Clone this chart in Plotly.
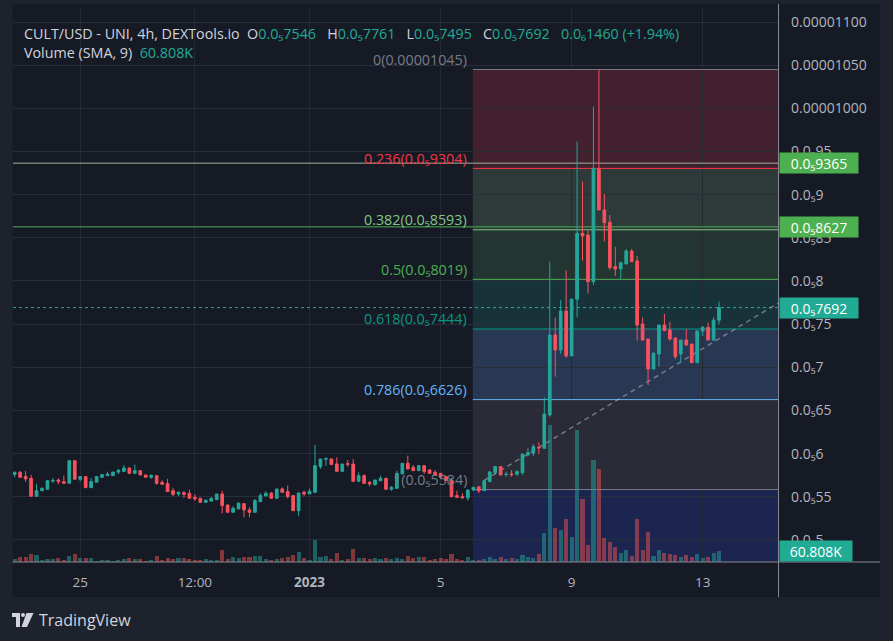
import plotly.graph_objects as go

# ---------------- data (prices in units of 1e-6 USD, volume in thousands) ----------------
N_CANDLES = 130  # 4h candles, 23 Dec 2022 00:00 .. 13 Jan 2023 12:00
TIME_TICK_POS = [12, 33, 54, 78, 102, 126]
TIME_TICK_TEXT = ["25", "12:00", "<b>2023</b>", "5", "9", "13"]

OPEN = [5.760, 5.784, 5.737, 5.714, 5.506, 5.571, 5.587, 5.683, 5.695, 5.676,
        5.657, 5.919, 5.703, 5.734, 5.606, 5.668, 5.726, 5.745, 5.745, 5.787,
        5.795, 5.834, 5.772, 5.803, 5.753, 5.726, 5.745, 5.668, 5.653, 5.571,
        5.533, 5.548, 5.540, 5.494, 5.483, 5.436, 5.450, 5.467, 5.533, 5.406,
        5.321, 5.360, 5.421, 5.348, 5.321, 5.444, 5.510, 5.541, 5.483, 5.591,
        5.560, 5.514, 5.340, 5.552, 5.533, 5.552, 5.851, 5.935, 5.938, 5.880,
        5.795, 5.884, 5.880, 5.680, 5.745, 5.668, 5.641, 5.687, 5.714, 5.587,
        5.598, 5.765, 5.888, 5.842, 5.803, 5.861, 5.811, 5.784, 5.772, 5.734,
        5.687, 5.514, 5.502, 5.487, 5.579, 5.615, 5.572, 5.676, 5.780, 5.850,
        5.757, 5.764, 5.761, 5.780, 5.985, 6.004, 6.074, 6.062, 6.448, 7.375,
        7.201, 7.653, 7.132, 7.788, 8.552, 8.533, 7.992, 9.305, 8.823, 8.680,
        8.166, 8.139, 8.197, 8.347, 8.232, 7.502, 7.328, 6.980, 7.154, 7.490,
        7.432, 7.340, 7.154, 7.316, 7.270, 7.054, 7.420, 7.463, 7.316, 7.546]
HIGH = [5.792, 5.799, 5.799, 5.753, 5.652, 5.610, 5.687, 5.718, 5.714, 5.745,
        5.919, 5.919, 5.734, 5.734, 5.718, 5.734, 5.757, 5.790, 5.787, 5.823,
        5.869, 5.834, 5.873, 5.803, 5.753, 5.760, 5.745, 5.691, 5.707, 5.606,
        5.560, 5.567, 5.583, 5.530, 5.483, 5.468, 5.494, 5.533, 5.572, 5.406,
        5.390, 5.437, 5.421, 5.378, 5.475, 5.541, 5.564, 5.556, 5.591, 5.610,
        5.630, 5.514, 5.545, 5.572, 5.595, 6.104, 5.938, 5.958, 5.942, 5.958,
        5.880, 5.927, 5.938, 5.784, 5.764, 5.680, 5.695, 5.745, 5.714, 5.625,
        5.800, 5.888, 5.977, 5.870, 5.861, 5.861, 5.819, 5.811, 5.772, 5.734,
        5.720, 5.572, 5.541, 5.579, 5.615, 5.625, 5.687, 5.800, 5.850, 5.850,
        5.792, 5.810, 5.810, 5.996, 6.062, 6.112, 6.131, 6.653, 8.224, 7.576,
        7.780, 8.120, 7.800, 9.614, 9.151, 8.583, 10.020, 10.450, 9.008, 8.765,
        8.397, 8.224, 8.371, 8.371, 8.290, 7.579, 7.328, 7.181, 7.490, 7.618,
        7.525, 7.340, 7.316, 7.440, 7.270, 7.421, 7.479, 7.517, 7.579, 7.761]
LOW = [5.726, 5.718, 5.676, 5.506, 5.506, 5.565, 5.587, 5.660, 5.645, 5.657,
       5.657, 5.703, 5.680, 5.606, 5.606, 5.668, 5.726, 5.745, 5.745, 5.764,
       5.795, 5.772, 5.764, 5.753, 5.726, 5.707, 5.640, 5.645, 5.560, 5.506,
       5.506, 5.487, 5.483, 5.456, 5.436, 5.429, 5.450, 5.467, 5.309, 5.321,
       5.321, 5.360, 5.263, 5.263, 5.321, 5.444, 5.510, 5.483, 5.483, 5.552,
       5.483, 5.340, 5.274, 5.506, 5.533, 5.552, 5.822, 5.861, 5.873, 5.795,
       5.795, 5.849, 5.680, 5.680, 5.656, 5.622, 5.630, 5.680, 5.587, 5.570,
       5.598, 5.765, 5.822, 5.803, 5.803, 5.765, 5.772, 5.757, 5.726, 5.687,
       5.502, 5.487, 5.487, 5.456, 5.570, 5.541, 5.565, 5.676, 5.753, 5.753,
       5.734, 5.734, 5.745, 5.753, 5.966, 5.973, 5.996, 6.062, 6.429, 6.892,
       7.155, 7.112, 7.132, 7.579, 8.236, 7.857, 7.954, 8.823, 8.456, 8.128,
       8.058, 8.019, 8.197, 8.224, 7.309, 7.309, 6.795, 6.980, 7.008, 7.425,
       7.309, 7.096, 7.054, 7.258, 7.054, 7.054, 7.363, 7.316, 7.316, 7.495]
CLOSE = [5.784, 5.726, 5.707, 5.506, 5.571, 5.598, 5.687, 5.690, 5.676, 5.657,
         5.919, 5.703, 5.734, 5.606, 5.676, 5.734, 5.757, 5.764, 5.787, 5.807,
         5.834, 5.772, 5.803, 5.753, 5.726, 5.749, 5.657, 5.645, 5.560, 5.529,
         5.552, 5.529, 5.483, 5.475, 5.436, 5.460, 5.483, 5.533, 5.398, 5.321,
         5.367, 5.425, 5.348, 5.321, 5.456, 5.514, 5.541, 5.483, 5.591, 5.552,
         5.502, 5.340, 5.545, 5.533, 5.564, 5.861, 5.938, 5.942, 5.873, 5.795,
         5.880, 5.876, 5.680, 5.745, 5.656, 5.649, 5.695, 5.714, 5.587, 5.610,
         5.772, 5.888, 5.822, 5.803, 5.861, 5.792, 5.772, 5.757, 5.726, 5.687,
         5.502, 5.494, 5.487, 5.579, 5.610, 5.568, 5.687, 5.788, 5.850, 5.753,
         5.761, 5.757, 5.792, 5.996, 6.012, 6.081, 6.066, 6.460, 7.375, 7.201,
         7.653, 7.132, 7.788, 8.552, 8.521, 7.992, 9.305, 8.823, 8.676, 8.155,
         8.139, 8.212, 8.347, 8.224, 7.490, 7.316, 6.980, 7.162, 7.490, 7.425,
         7.328, 7.123, 7.316, 7.258, 7.054, 7.421, 7.463, 7.316, 7.546, 7.692]
VOLUME_K = [16.6, 27.7, 27.4, 44.2, 38.7, 11.1, 16.4, 16.8, 22.1, 11.3,
            33.2, 44.5, 22.0, 22.4, 21.9, 5.6, 11.0, 11.4, 5.8, 11.2,
            16.5, 22.3, 16.7, 16.4, 5.5, 11.1, 33.0, 11.2, 22.0, 16.6,
            22.2, 22.1, 16.5, 11.0, 11.3, 16.6, 11.1, 11.0, 66.4, 16.5,
            27.6, 22.1, 27.7, 27.5, 33.1, 33.4, 16.6, 11.1, 16.7, 22.0,
            27.6, 38.8, 55.3, 22.1, 11.0, 121.7, 27.6, 33.2, 16.6, 49.8,
            11.1, 16.6, 71.9, 22.1, 22.2, 16.6, 22.1, 16.5, 22.2, 16.6,
            22.1, 16.6, 33.2, 22.1, 27.7, 27.6, 11.1, 16.6, 22.1, 16.6,
            44.2, 16.6, 11.1, 27.7, 11.1, 11.0, 16.6, 27.7, 16.6, 27.6,
            16.6, 22.1, 16.6, 38.7, 27.6, 22.1, 44.2, 160.4, 757.6, 188.0,
            177.0, 237.8, 138.3, 730.0, 348.4, 94.0, 564.1, 514.3, 132.7, 110.6,
            83.0, 49.8, 66.4, 33.2, 237.8, 66.4, 165.9, 33.2, 66.4, 49.8,
            44.2, 38.7, 27.7, 38.7, 27.6, 44.2, 22.1, 27.7, 49.8, 60.808]
CHANGE = 0.1460        # last-bar change, 1e-6 units
CHANGE_PCT = 1.94

PRICE_TICKS = [5.0, 5.5, 6.0, 6.5, 7.0, 7.5, 8.0, 8.5, 9.0, 9.5, 10.0, 10.5, 11.0]
PRICE_TICK_TEXT = ["0.0₅5", "0.0₅55", "0.0₅6", "0.0₅65", "0.0₅7", "0.0₅75", "0.0₅8",
                   "0.0₅85", "0.0₅9", "0.0₅95", "0.00001000", "0.00001050", "0.00001100"]

FIB_RATIOS = ["0", "0.236", "0.382", "0.5", "0.618", "0.786", "1"]
FIB_PRICES = [10.45, 9.304, 8.593, 8.019, 7.444, 6.626, 5.584]
FIB_START = 83.9            # candle index where the retracement drawing begins
ALERT_LINES = [9.365, 8.627]
TREND_A = (86.0, 5.691)
TREND_B = (139.8, 7.743)

# ---------------- style ----------------
UP = "#26a69a"
DOWN = "#f7525f"
TXT = "#b2b5be"
FONT = "Open Sans, Noto Sans, sans-serif"
W, H = 893, 641
ML, MR, MT, MB = 13, 115, 9, 79
PW, PH = W - ML - MR, H - MT - MB
X_RANGE = [-0.31, 139.8]
Y_RANGE = [4.7449, 11.0 + (22 - MT) / 86.33]
VOL_PER_PX = 5.53
VOL_RANGE = [0, PH * VOL_PER_PX]

FIB_LINE_COLORS = ["#787b86", "#f23645", "#81c784", "#4caf50", "#089981", "#64b5f6", "#787b86"]
FIB_ZONE_COLORS = ["#42202e", "#2e3a3a", "#233530", "#18323a", "#283752", "#2a2b36", "#1c2550"]


def PX(x):
    return (x - ML) / PW


def PY(y):
    return (H - MB - y) / PH


def sub5(p):
    return "0.0₅" + str(int(round(p * 1000)))


X = list(range(N_CANDLES))
fig = go.Figure()

vol_colors = ["rgba(38,166,154,0.5)" if c >= o else "rgba(239,83,80,0.5)" for o, c in zip(OPEN, CLOSE)]
fig.add_trace(go.Candlestick(
    x=X, open=OPEN, high=HIGH, low=LOW, close=CLOSE,
    increasing=dict(line=dict(color=UP, width=1), fillcolor=UP),
    decreasing=dict(line=dict(color=DOWN, width=1), fillcolor=DOWN),
    whiskerwidth=0, hoverinfo="skip", showlegend=False))
fig.add_trace(go.Bar(x=X, y=VOLUME_K, yaxis="y2", marker=dict(color=vol_colors, line=dict(width=0)),
                     width=0.75, hoverinfo="skip", showlegend=False))

shapes = []
shapes.append(dict(type="rect", xref="paper", yref="paper", x0=PX(12.5), x1=PX(880), y0=PY(597), y1=PY(4),
                   fillcolor="#161a25", line=dict(width=0), layer="below"))
zone_bounds = FIB_PRICES + [Y_RANGE[0]]
for i in range(len(FIB_PRICES)):
    shapes.append(dict(type="rect", xref="x", yref="y", x0=FIB_START, x1=X_RANGE[1],
                       y0=zone_bounds[i + 1], y1=zone_bounds[i], fillcolor=FIB_ZONE_COLORS[i],
                       line=dict(width=0), layer="below"))
for p, c in zip(FIB_PRICES, FIB_LINE_COLORS):
    shapes.append(dict(type="line", xref="x", yref="y", x0=FIB_START, x1=X_RANGE[1], y0=p, y1=p,
                       line=dict(color=c, width=1), layer="between"))
shapes.append(dict(type="line", xref="x", yref="y", x0=X_RANGE[0], x1=X_RANGE[1], y0=ALERT_LINES[0],
                   y1=ALERT_LINES[0], line=dict(color="#9fb3a0", width=1), layer="between"))
shapes.append(dict(type="line", xref="x", yref="y", x0=X_RANGE[0], x1=X_RANGE[1], y0=ALERT_LINES[1],
                   y1=ALERT_LINES[1], line=dict(color="#4caf50", width=1), layer="between"))
shapes.append(dict(type="line", xref="x", yref="y", x0=X_RANGE[0], x1=X_RANGE[1], y0=CLOSE[-1], y1=CLOSE[-1],
                   line=dict(color="#22ab94", width=1, dash="dot"), layer="between"))
shapes.append(dict(type="line", xref="x", yref="y", x0=TREND_A[0], y0=TREND_A[1], x1=TREND_B[0], y1=TREND_B[1],
                   line=dict(color="rgba(178,181,190,0.55)", width=1.5, dash="5px,4px"), layer="between"))
shapes.append(dict(type="line", xref="paper", yref="paper", x0=PX(778.5), x1=PX(778.5), y0=PY(597), y1=PY(4),
                   line=dict(color="#868993", width=1), layer="above"))
shapes.append(dict(type="line", xref="paper", yref="paper", x0=PX(12.5), x1=PX(880), y0=PY(562), y1=PY(562),
                   line=dict(color="#868993", width=1), layer="above"))
# TradingView logo
shapes.append(dict(type="rect", xref="paper", yref="paper", x0=PX(12), x1=PX(20), y0=PY(617), y1=PY(613),
                   fillcolor="#d1d4dc", line=dict(width=0), layer="above"))
shapes.append(dict(type="rect", xref="paper", yref="paper", x0=PX(16), x1=PX(20), y0=PY(627), y1=PY(613),
                   fillcolor="#d1d4dc", line=dict(width=0), layer="above"))
shapes.append(dict(type="circle", xref="paper", yref="paper", x0=PX(21), x1=PX(25), y0=PY(617), y1=PY(613),
                   fillcolor="#d1d4dc", line=dict(width=0), layer="above"))
shapes.append(dict(type="path", xref="paper", yref="paper",
                   path=f"M {PX(26.5)} {PY(613)} L {PX(33.5)} {PY(613)} L {PX(27)} {PY(627)} L {PX(21.5)} {PY(627)} Z",
                   fillcolor="#d1d4dc", line=dict(width=0), layer="above"))

annotations = []
TEAL = "#22ab94"


def val(s):
    return f'<span style="color:{TEAL}">{s}</span>'


sp = "\u00a0\u00a0"
sp3 = "\u00a0\u00a0\u00a0"
line1 = ("CULT/USD - UNI, 4h, DEXTools.io" + sp + "O" + val(sub5(OPEN[-1])) + sp3 + "H" + val(sub5(HIGH[-1]))
         + sp3 + "L" + val(sub5(LOW[-1])) + sp3 + "C" + val(sub5(CLOSE[-1])) + sp3
         + val(f"0.0₆{int(round(CHANGE * 10000))} (+{CHANGE_PCT:.2f}%)"))
line2 = "Volume (SMA, 9)" + sp + val(f"{VOLUME_K[-1]:.3f}K")
annotations.append(dict(xref="paper", yref="paper", x=PX(22), y=PY(33), xanchor="left", yanchor="middle",
                        text=line1, showarrow=False, font=dict(size=14.3, color="#d1d4dc", family=FONT)))
annotations.append(dict(xref="paper", yref="paper", x=PX(22), y=PY(52), xanchor="left", yanchor="middle",
                        text=line2, showarrow=False, font=dict(size=14.3, color="#d1d4dc", family=FONT)))

for r, p, c in zip(FIB_RATIOS, FIB_PRICES, FIB_LINE_COLORS):
    ptxt = "0.00001045" if p >= 10 else sub5(p)
    annotations.append(dict(xref="x", yref="y", x=FIB_START, y=p, xanchor="right", yanchor="middle",
                            xshift=-4, yshift=10, text=f"{r}({ptxt})", showarrow=False,
                            font=dict(size=14.3, color=c, family=FONT)))

for p, bg in [(ALERT_LINES[0], "#4caf50"), (ALERT_LINES[1], "#4caf50"), (CLOSE[-1], TEAL)]:
    annotations.append(dict(xref="paper", yref="y", x=1, y=p, xanchor="left", yanchor="middle", xshift=1,
                            text=sub5(p), showarrow=False, bgcolor=bg, width=74, height=16, borderpad=2,
                            font=dict(size=14, color="#ffffff", family=FONT)))
annotations.append(dict(xref="paper", yref="y2", x=1, y=VOLUME_K[-1], xanchor="left", yanchor="middle", xshift=1,
                        text=f"{VOLUME_K[-1]:.3f}K", showarrow=False, bgcolor=TEAL, width=68, height=16,
                        borderpad=2, font=dict(size=14, color="#ffffff", family=FONT)))
annotations.append(dict(xref="paper", yref="paper", x=PX(37), y=PY(620), xanchor="left", yanchor="middle",
                        text="TradingView", showarrow=False, font=dict(size=16, color="#d1d4dc", family=FONT)))

fig.update_layout(
    width=W, height=H, margin=dict(l=ML, r=MR, t=MT, b=MB, pad=0),
    paper_bgcolor="#1e222d", plot_bgcolor="#161a25",
    font=dict(family=FONT, size=13, color=TXT),
    showlegend=False, hovermode=False, dragmode=False, bargap=0,
    shapes=shapes, annotations=annotations,
    xaxis=dict(range=X_RANGE, rangeslider=dict(visible=False), tickmode="array", tickvals=TIME_TICK_POS,
               ticktext=TIME_TICK_TEXT, showgrid=True, gridcolor="#252934", gridwidth=1, zeroline=False,
               showline=False, ticks="", ticklabelstandoff=10, tickfont=dict(size=13.5, color=TXT)),
    yaxis=dict(range=Y_RANGE, side="right", tickmode="array", tickvals=PRICE_TICKS, ticktext=PRICE_TICK_TEXT,
               showgrid=True, gridcolor="#2a2e39", gridwidth=1, zeroline=False, showline=False, ticks="",
               ticklabelstandoff=12, tickfont=dict(size=14, color=TXT)),
    yaxis2=dict(range=VOL_RANGE, overlaying="y", visible=False, showgrid=False),
)

fig.write_html("out.html", config={"displayModeBar": False, "staticPlot": True})
